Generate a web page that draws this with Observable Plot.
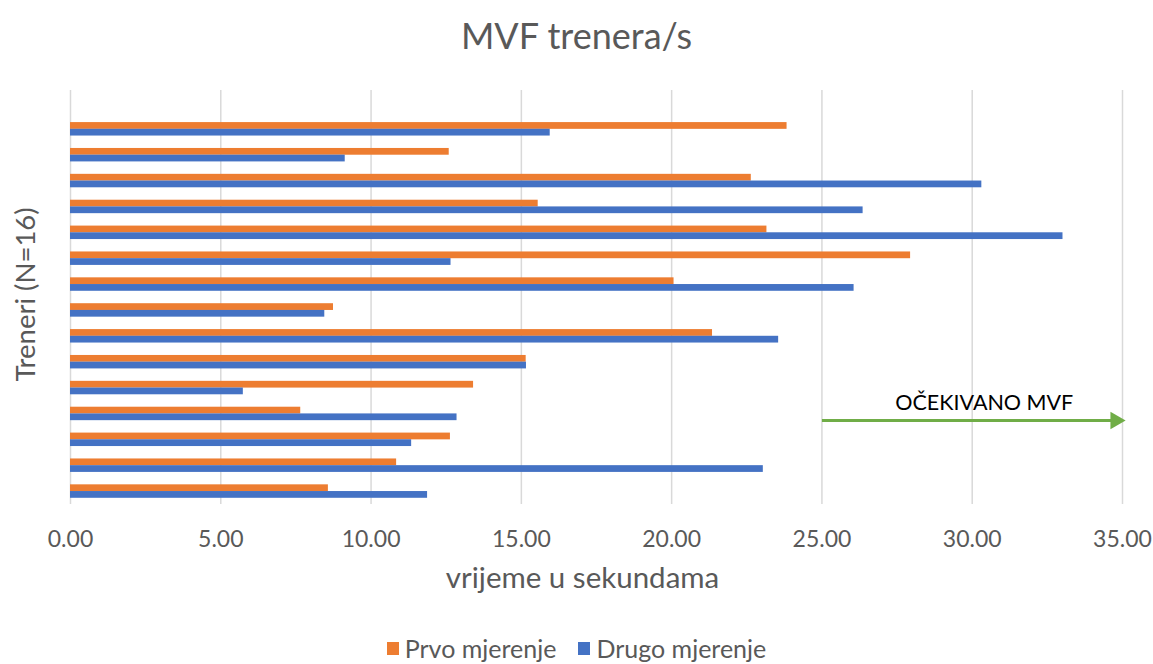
<!DOCTYPE html>
<html>
<head>
<meta charset="utf-8">
<script src="https://cdn.jsdelivr.net/npm/d3@7"></script>
<script src="https://cdn.jsdelivr.net/npm/@observablehq/plot@0.6"></script>
<style>
  body { margin: 0; background: #fff; font-family: Lato, "Open Sans", sans-serif; color: #595959; }
  #wrap { position: relative; width: 1153px; height: 664px; overflow: hidden; background: #fff; }
  #title { position: absolute; left: 0; top: 0; width: 1153px; height: 70px; line-height: 70px; text-align: center; font-size: 36px; color: #595959; }
  #chart { position: absolute; left: 0; top: 70px; }
  #legend { position: absolute; left: 0; top: 633px; width: 1153px; height: 30px; line-height: 30px; display: flex; justify-content: center; align-items: center; gap: 22px; font-size: 25px; color: #595959; }
  .item { display: flex; align-items: center; gap: 6px; }
  .sw { width: 12px; height: 13px; display: inline-block; }
</style>
</head>
<body>
<div id="wrap">
  <div id="title">MVF trenera/s</div>
  <div id="chart"></div>
  <div id="legend"></div>
</div>
<script>
// Treneri 1..16 (bottom to top); trener 16 has no recorded values
const categories = ["1","2","3","4","5","6","7","8","9","10","11","12","13","14","15","16"];
const prvo  = [8.58, 10.85, 12.64, 7.66, 13.41, 15.16, 21.36, 8.75, 20.08, 27.95, 23.17, 15.56, 22.65, 12.60, 23.84, null];
const drugo = [11.88, 23.05, 11.35, 12.86, 5.75, 15.17, 23.56, 8.46, 26.07, 12.66, 33.02, 26.37, 30.32, 9.14, 15.96, null];
const seriesNames = ["Prvo mjerenje", "Drugo mjerenje"];
const seriesColors = ["#ED7D31", "#4472C4"];
const xTicks = [0, 5, 10, 15, 20, 25, 30, 35];
const expected = [{ from: 25, to: 35.1, labelAt: 30.4, at: "4", label: "OČEKIVANO MVF" }];
const titleText = "MVF trenera/s";
const xLabel = "vrijeme u sekundama";
const yLabel = "Treneri (N=16)";

const rowsP = categories.map((c, i) => ({ c, v: prvo[i] })).filter(d => d.v != null);
const rowsD = categories.map((c, i) => ({ c, v: drugo[i] })).filter(d => d.v != null);
const green = "#70AD47";

const chart = Plot.plot({
  width: 1153,
  height: 540,
  marginTop: 20,
  marginBottom: 106,
  marginLeft: 70,
  marginRight: 31,
  style: { fontFamily: "Lato, 'Open Sans', sans-serif", fontSize: "23px", color: "#595959", background: "white", overflow: "visible" },
  x: { domain: [0, 35] },
  y: { domain: categories.slice().reverse(), paddingInner: 0.48, paddingOuter: 0.24, round: false, axis: null },
  marks: [
    Plot.gridX(xTicks, { stroke: "#d9d9d9", strokeOpacity: 1, strokeWidth: 1.5 }),
    Plot.axisX(xTicks, { tickFormat: d3.format(".2f"), tickSize: 0, tickPadding: 26, label: null, fontSize: 23 }),
    Plot.barX(rowsP, { x: "v", y: "c", fill: seriesColors[0], insetBottom: 6.7 }),
    Plot.barX(rowsD, { x: "v", y: "c", fill: seriesColors[1], insetTop: 6.7 }),
    Plot.link(expected, { x1: "from", x2: d => d.to - 0.3, y1: "at", y2: "at", stroke: green, strokeWidth: 3, dy: 6.5 }),
    Plot.dot(expected, { x: "to", y: "at", symbol: "triangle", r: 6.5, fill: green, stroke: "none", rotate: 90, dx: -10, dy: 6.5 }),
    Plot.text(expected, { x: "labelAt", y: "at", text: "label", fill: "#000", fontSize: 21.5, dy: -11 }),
    Plot.text([xLabel], { text: d => d, frameAnchor: "bottom", lineAnchor: "middle", dy: 74, dx: -14, fontSize: 29.5, fill: "#595959" }),
    Plot.text([yLabel], { text: d => d, frameAnchor: "left", textAnchor: "middle", lineAnchor: "middle", rotate: -90, dx: -44, dy: -3, fontSize: 27.5, fill: "#595959" })
  ]
});
document.getElementById("chart").appendChild(chart);
document.getElementById("title").textContent = titleText;

const legend = document.getElementById("legend");
seriesNames.forEach((name, i) => {
  const item = document.createElement("div");
  item.className = "item";
  const sw = document.createElement("span");
  sw.className = "sw";
  sw.style.background = seriesColors[i];
  const lab = document.createElement("span");
  lab.textContent = name;
  item.appendChild(sw);
  item.appendChild(lab);
  legend.appendChild(item);
});
</script>
</body>
</html>
